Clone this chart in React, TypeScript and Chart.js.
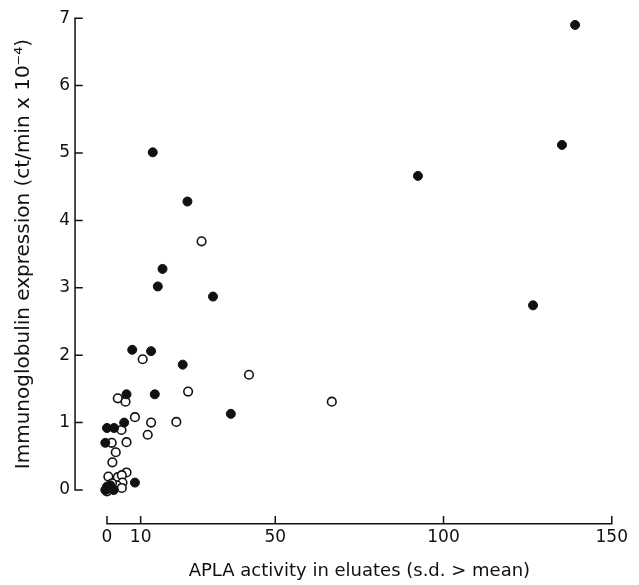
import { useEffect, useRef } from "react";
import { Chart, registerables } from "chart.js";

Chart.register(...registerables);

const xTickValues = [0, 10, 50, 100, 150];
const yTickValues = [0, 1, 2, 3, 4, 5, 6, 7];

const xTitle = "APLA activity in eluates (s.d. > mean)";
const yTitle = "Immunoglobulin expression (ct/min x 10\u207B\u2074)";

// Filled circles
const filledX = [139.1, 135.2, 126.6, 92.4, 13.6, 23.9, 16.5, 15.1, 31.5, 7.5, 13.1, 22.5, 5.8, 14.2, 36.8, 5.1, 0, 2.1, -0.5, 8.3, 0, 1, -0.5, 2, 0.5];
const filledY = [6.9, 5.12, 2.74, 4.66, 5.01, 4.28, 3.28, 3.02, 2.87, 2.08, 2.06, 1.86, 1.42, 1.42, 1.13, 1.0, 0.92, 0.92, 0.7, 0.11, 0.05, 0.07, 0, 0, 0.02];

// Open circles
const openX = [28.1, 10.6, 42.2, 24.1, 66.8, 3.2, 5.5, 8.3, 13.1, 20.6, 4.3, 12.1, 5.8, 1.4, 2.6, 1.6, 5.8, 0.4, 3.2, 4.4, 4.6, 2.9, 4.4, 0, 1.5];
const openY = [3.69, 1.94, 1.71, 1.46, 1.31, 1.36, 1.31, 1.08, 1.0, 1.01, 0.89, 0.82, 0.71, 0.7, 0.56, 0.41, 0.26, 0.2, 0.19, 0.22, 0.11, 0.07, 0.03, -0.02, 0.1];

const FONT = "'DejaVu Sans', sans-serif";
const INK = "#111";
const Y_AXIS_AT_X = -9.5; // x value where the detached y axis line sits
const X_AXIS_AT_Y = -0.5; // y value where the detached x axis line sits

const axesPlugin = {
  id: "detachedAxes",
  afterDatasetsDraw(chart: any) {
    const { ctx } = chart;
    const xs = chart.scales.x;
    const ys = chart.scales.y;
    ctx.save();
    ctx.strokeStyle = INK;
    ctx.lineWidth = 1.5;
    ctx.lineCap = "square";
    // y axis
    const ax = xs.getPixelForValue(Y_AXIS_AT_X);
    const y0 = ys.getPixelForValue(yTickValues[0]);
    const y1 = ys.getPixelForValue(yTickValues[yTickValues.length - 1]);
    ctx.beginPath();
    ctx.moveTo(ax, y0);
    ctx.lineTo(ax, y1);
    yTickValues.forEach((v) => {
      const py = ys.getPixelForValue(v);
      ctx.moveTo(ax, py);
      ctx.lineTo(ax + 7, py);
    });
    ctx.stroke();
    // x axis
    const ay = ys.getPixelForValue(X_AXIS_AT_Y);
    const x0 = xs.getPixelForValue(xTickValues[0]);
    const x1 = xs.getPixelForValue(xTickValues[xTickValues.length - 1]);
    ctx.beginPath();
    ctx.moveTo(x0, ay);
    ctx.lineTo(x1, ay);
    xTickValues.forEach((v) => {
      const px = xs.getPixelForValue(v);
      ctx.moveTo(px, ay);
      ctx.lineTo(px, ay - 7);
    });
    ctx.stroke();
    ctx.restore();
  },
};

export default function App() {
  const ref = useRef<HTMLCanvasElement | null>(null);

  useEffect(() => {
    if (!ref.current) return;
    const openData = openX.map((x, i) => ({ x, y: openY[i] }));
    const filledData = filledX.map((x, i) => ({ x, y: filledY[i] }));
    const chart = new Chart(ref.current, {
      type: "scatter",
      data: {
        datasets: [
          {
            label: "Filled",
            data: filledData,
            pointRadius: 4.5,
            pointBackgroundColor: INK,
            pointBorderColor: INK,
            pointBorderWidth: 1,
            clip: false,
            order: 0,
          },
          {
            label: "Open",
            data: openData,
            pointRadius: 4.3,
            pointBackgroundColor: "#fff",
            pointBorderColor: INK,
            pointBorderWidth: 1.6,
            clip: false,
            order: 1,
          },
        ],
      },
      options: {
        animation: false,
        responsive: true,
        maintainAspectRatio: false,
        layout: { padding: 0 },
        plugins: {
          legend: { display: false },
          tooltip: { enabled: false },
        },
        scales: {
          x: {
            type: "linear",
            min: 0,
            max: 150,
            afterBuildTicks: (s: any) => {
              s.ticks = xTickValues.map((v) => ({ value: v }));
            },
            afterFit: (s: any) => {
              s.height = 95;
            },
            grid: { display: false, drawTicks: false },
            border: { display: false },
            ticks: {
              padding: 37,
              color: INK,
              font: { family: FONT, size: 17 },
              maxRotation: 0,
              autoSkip: false,
            },
            title: {
              display: true,
              text: xTitle,
              color: INK,
              font: { family: FONT, size: 18 },
              padding: { top: 0, bottom: 3 },
            },
          },
          y: {
            type: "linear",
            min: 0,
            max: 7,
            afterBuildTicks: (s: any) => {
              s.ticks = yTickValues.map((v) => ({ value: v }));
            },
            afterFit: (s: any) => {
              s.width = 107;
            },
            grid: { display: false, drawTicks: false },
            border: { display: false },
            ticks: {
              padding: 37,
              color: INK,
              font: { family: FONT, size: 17 },
              autoSkip: false,
            },
            title: {
              display: true,
              text: yTitle,
              color: INK,
              font: { family: FONT, size: 20 },
              padding: { top: 12, bottom: 0 },
            },
          },
        },
      },
      plugins: [axesPlugin],
    });
    return () => chart.destroy();
  }, []);

  return (
    <div style={{ position: "absolute", left: 0, top: 0, width: 639, height: 585, overflow: "hidden", background: "#fff" }}>
      <div style={{ position: "absolute", left: 0, top: -29, width: 665, height: 614 }}>
        <canvas ref={ref} />
      </div>
    </div>
  );
}
